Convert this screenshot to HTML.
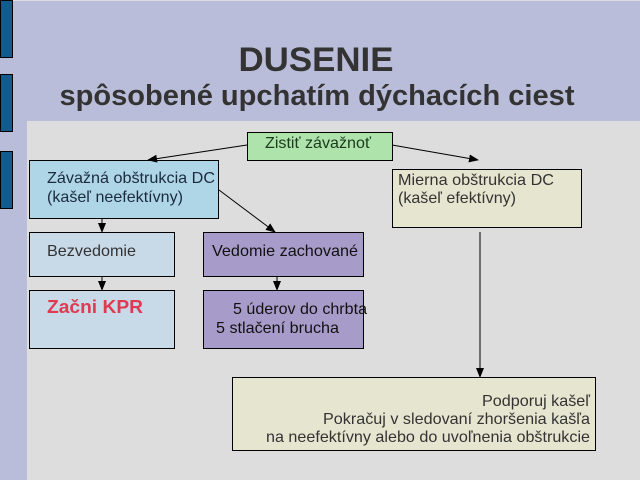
<!DOCTYPE html>
<html><head><meta charset="utf-8"><style>
html,body{margin:0;padding:0;width:640px;height:480px;overflow:hidden;background:#babdd9}
svg{display:block}
text{font-family:"Liberation Sans",sans-serif}
</style></head><body>
<svg width="640" height="480" viewBox="0 0 640 480" xmlns="http://www.w3.org/2000/svg">
<defs><marker id="a" markerWidth="10" markerHeight="8" refX="9" refY="4" orient="auto" markerUnits="userSpaceOnUse"><path d="M0,0 L10,4 L0,8 z" fill="#000"/></marker></defs>
<rect x="0" y="0" width="640" height="480" fill="#babdd9"/>
<rect x="0" y="0" width="640" height="1" fill="#ddd"/>
<rect x="0.5" y="0.5" width="12" height="57" fill="#135b8c" stroke="#000"/>
<rect x="0.5" y="74.5" width="12" height="57" fill="#135b8c" stroke="#000"/>
<rect x="0.5" y="151.5" width="12" height="57" fill="#135b8c" stroke="#000"/>
<rect x="27" y="121" width="613" height="359" fill="#dddddd"/>
<text x="316" y="71" text-anchor="middle" font-size="34" font-weight="bold" fill="#333" textLength="155" lengthAdjust="spacingAndGlyphs">DUSENIE</text>
<text x="317" y="105" text-anchor="middle" font-size="29" font-weight="bold" fill="#333" textLength="515" lengthAdjust="spacingAndGlyphs">spôsobené upchatím dýchacích ciest</text>
<g stroke="#000" stroke-width="1">
<rect x="247.5" y="132.5" width="145" height="28" fill="#aee3ac"/>
<rect x="29.5" y="160.5" width="189" height="58" fill="#aed6e6"/>
<rect x="392.5" y="169.5" width="189" height="58" fill="#e6e5d0"/>
<rect x="29.5" y="232.5" width="145" height="44" fill="#c8d9e8"/>
<rect x="203.5" y="232.5" width="160" height="44" fill="#a79cc9"/>
<rect x="29.5" y="290.5" width="145" height="58" fill="#c8d9e8"/>
<rect x="203.5" y="290.5" width="160" height="58" fill="#a79cc9"/>
<rect x="232.5" y="377.5" width="363" height="73" fill="#e6e5d0"/>
<line x1="247" y1="145" x2="148" y2="160" marker-end="url(#a)"/>
<line x1="392" y1="145" x2="478" y2="160" marker-end="url(#a)"/>
<line x1="219" y1="190" x2="275" y2="232" marker-end="url(#a)"/>
<line x1="102" y1="219" x2="102" y2="232" marker-end="url(#a)"/>
<line x1="102" y1="277" x2="102" y2="290" marker-end="url(#a)"/>
<line x1="277" y1="277" x2="277" y2="290" marker-end="url(#a)"/>
<line x1="480" y1="232" x2="480" y2="377" marker-end="url(#a)"/>
</g>
<g font-size="16" fill="#222">
<text x="265" y="148" fill="#1c3a1c" textLength="106" lengthAdjust="spacingAndGlyphs">Zistiť závažnoť</text>
<text x="47" y="183" fill="#1c2a40" textLength="168" lengthAdjust="spacingAndGlyphs">Závažná obštrukcia DC</text>
<text x="47" y="202" fill="#1c2a40" textLength="136" lengthAdjust="spacingAndGlyphs">(kašeľ neefektívny)</text>
<text x="398" y="185" fill="#333" textLength="156" lengthAdjust="spacingAndGlyphs">Mierna obštrukcia DC</text>
<text x="398" y="203" fill="#333" textLength="118" lengthAdjust="spacingAndGlyphs">(kašeľ efektívny)</text>
<text x="47" y="256" fill="#333" textLength="89" lengthAdjust="spacingAndGlyphs">Bezvedomie</text>
<text x="212" y="256" fill="#111" textLength="146" lengthAdjust="spacingAndGlyphs">Vedomie zachované</text>
<text x="47" y="313" font-size="18" font-weight="bold" fill="#e03a52" textLength="96" lengthAdjust="spacingAndGlyphs">Začni KPR</text>
<text x="233" y="314" fill="#111" textLength="134" lengthAdjust="spacingAndGlyphs">5 úderov do chrbta</text>
<text x="216" y="333" fill="#111" textLength="123" lengthAdjust="spacingAndGlyphs">5 stlačení brucha</text>
<text x="590" y="406" text-anchor="end" fill="#333" textLength="108" lengthAdjust="spacingAndGlyphs">Podporuj kašeľ</text>
<text x="590" y="424" text-anchor="end" fill="#333" textLength="267" lengthAdjust="spacingAndGlyphs">Pokračuj v sledovaní zhoršenia kašľa</text>
<text x="590" y="442" text-anchor="end" fill="#333" textLength="324" lengthAdjust="spacingAndGlyphs">na neefektívny alebo do uvoľnenia obštrukcie</text>
</g>
</svg>
</body></html>
